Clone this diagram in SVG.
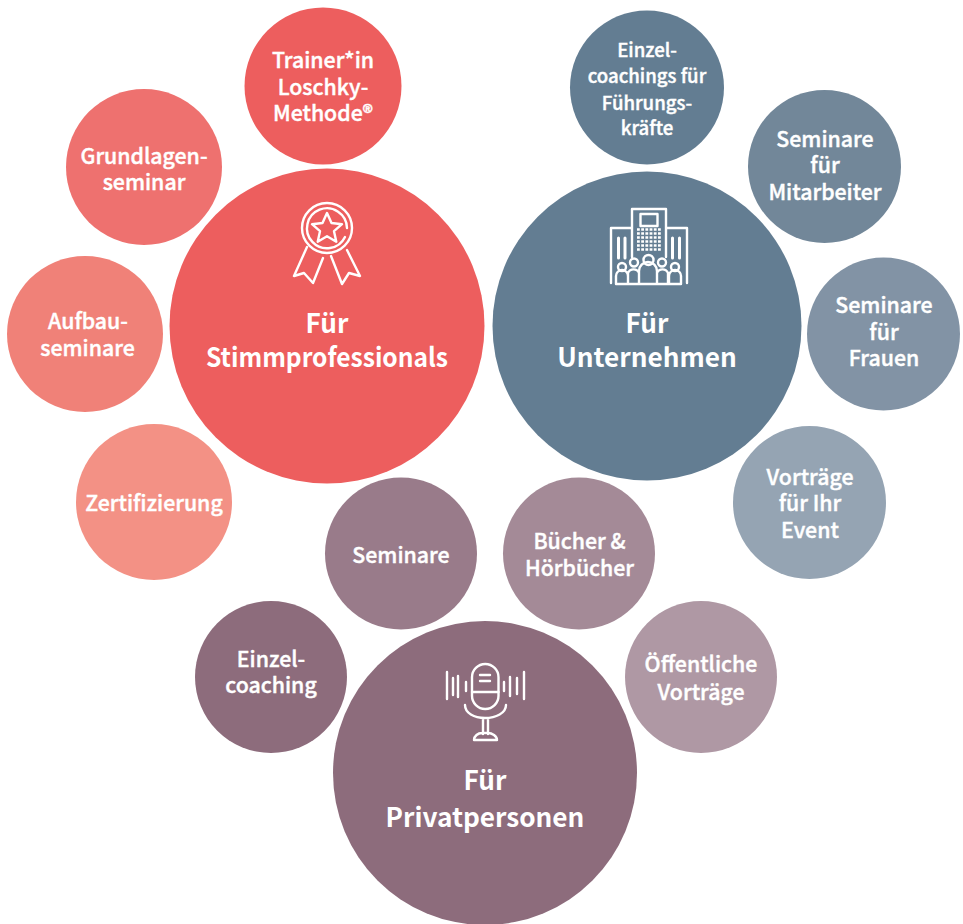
<svg xmlns="http://www.w3.org/2000/svg" width="963" height="924" viewBox="0 0 963 924">
<style>
text{font-family:"Noto Sans CJK SC","Noto Sans",sans-serif;fill:#fff;text-anchor:middle;font-weight:500;stroke:#fff;stroke-width:.4}
.s{font-size:21.300px}
.e{font-size:18.600px}
.b{font-size:26.200px;font-weight:700;stroke-width:0}
.i{fill:none;stroke:#fff;stroke-width:2.400;stroke-linejoin:round;stroke-linecap:round}
</style>
<rect width="963" height="924" fill="#fff"/>
<g id="connectors"/>
<g id="stimm"><circle cx="327" cy="326" r="157.500" fill="#ED5E5E"/>
<g class="i"><circle cx="327" cy="228" r="25"/><path d="M347 228a20 20 0 1 0-2 9"/>
<path d="M327 213l4.500 10 10.500 1.200-8 7 2.300 10.500-9.300-5.500-9.300 5.500 2.300-10.500-8-7 10.500-1.200z"/>
<path d="M307 247l-13 29 10-3 9 10 10-25M347 250l13 26-11-3-7 11-11-28"/></g>
<text class="b" x="327" y="333">Für</text><text class="b" x="327" y="367" textLength="242" lengthAdjust="spacingAndGlyphs">Stimmprofessionals</text></g>
<g id="unternehmen"><circle cx="647" cy="326" r="154.500" fill="#637D92"/>
<g class="i"><path d="M632 257v-48h34v48M632 228h-21v55M666 228h21v55"/><rect x="640.500" y="214" width="17" height="12"/>
<path d="M616 284v-8a6 6 0 0 1 12 0M628 284v-11a6 6 0 0 1 11 0M639 284v-13a9 9 0 0 1 18 0v13M657 273a6 6 0 0 1 11 0v11M669 276a6 6 0 0 1 12 0v8M616 284h65M628 276v8M669 276v8"/><circle cx="622" cy="267" r="4"/><circle cx="634" cy="262.500" r="4"/><circle cx="648.500" cy="260" r="5"/><circle cx="662" cy="262.500" r="4"/><circle cx="675" cy="267" r="4"/>
<path d="M618.500 238v20M625 238v20M672.500 238v20M679.500 238v20" stroke-width="3"/></g>
<path d="M637 229.500h24M637 233.500h24M637 237.500h24M637 241.500h24M637 245.500h24M637 249.500h24" fill="none" stroke="#fff" stroke-width="2.600" stroke-dasharray="2.800 1.400"/>
<text class="b" x="647" y="333">Für</text><text class="b" x="647" y="367">Unternehmen</text></g>
<g id="privat"><circle cx="485" cy="773" r="152" fill="#8D6C7C"/>
<g class="i"><rect x="472" y="664" width="26.500" height="45" rx="13.250"/><path d="M472 692h26.500M480 675h10M480 681h10M465 705c0 8 9 13 20 13s21-5 21-13M483 718v16M488 718v16M474 740c0-4 4-7 8-7h6c4 0 9 3 9 7z"/><path d="M447 672v27M453 678v17M458 676v21M466 682v9M524 672v27M517 678v16M510 677v19M504 682v9"/></g>
<text class="b" x="485" y="790">Für</text><text class="b" x="485" y="827">Privatpersonen</text></g>
<g id="trainer"><circle cx="323" cy="86" r="78.500" fill="#ED5E5E"/><text class="s" x="323" y="68">Trainer*in</text><text class="s" x="323" y="95">Loschky-</text><text class="s" x="323" y="121">Methode®</text></g>
<g id="grundlagen"><circle cx="144" cy="167" r="78" fill="#EE716F"/><text class="s" x="144" y="164">Grundlagen-</text><text class="s" x="144" y="190">seminar</text></g>
<g id="aufbau"><circle cx="85" cy="334" r="78" fill="#F08178"/><text class="s" x="88" y="329">Aufbau-</text><text class="s" x="87.500" y="356">seminare</text></g>
<g id="zertifizierung"><circle cx="154" cy="502" r="78" fill="#F39185"/><text class="s" x="154" y="511">Zertifizierung</text></g>
<g id="einzelcoachings"><circle cx="647" cy="87.500" r="77" fill="#637D92"/><text class="e" x="647" y="57">Einzel-</text><text class="e" x="647" y="83">coachings für</text><text class="e" x="647" y="110">Führungs-</text><text class="e" x="647" y="135">kräfte</text></g>
<g id="mitarbeiter"><circle cx="824.500" cy="166.500" r="76.500" fill="#728799"/><text class="s" x="825" y="147">Seminare</text><text class="s" x="825" y="173">für</text><text class="s" x="825" y="200">Mitarbeiter</text></g>
<g id="frauen"><circle cx="883.500" cy="334" r="76.500" fill="#8293A5"/><text class="s" x="884" y="313">Seminare</text><text class="s" x="884" y="340">für</text><text class="s" x="884" y="366">Frauen</text></g>
<g id="vortraege"><circle cx="809.500" cy="502.500" r="76.500" fill="#95A4B3"/><text class="s" x="810" y="485">Vorträge</text><text class="s" x="810" y="511">für Ihr</text><text class="s" x="810" y="538">Event</text></g>
<g id="seminare"><circle cx="401" cy="553.500" r="76" fill="#997B8A"/><text class="s" x="401" y="563">Seminare</text></g>
<g id="buecher"><circle cx="579" cy="553.500" r="76" fill="#A48A97"/><text class="s" x="579.500" y="549">Bücher &amp;</text><text class="s" x="579.500" y="576">Hörbücher</text></g>
<g id="oeffentlich"><circle cx="701" cy="677" r="76" fill="#AF98A4"/><text class="s" x="701" y="672">Öffentliche</text><text class="s" x="701" y="700">Vorträge</text></g>
<g id="einzelcoaching"><circle cx="271" cy="677" r="76" fill="#8D6C7C"/><text class="s" x="271" y="667">Einzel-</text><text class="s" x="271" y="693">coaching</text></g>
</svg>
